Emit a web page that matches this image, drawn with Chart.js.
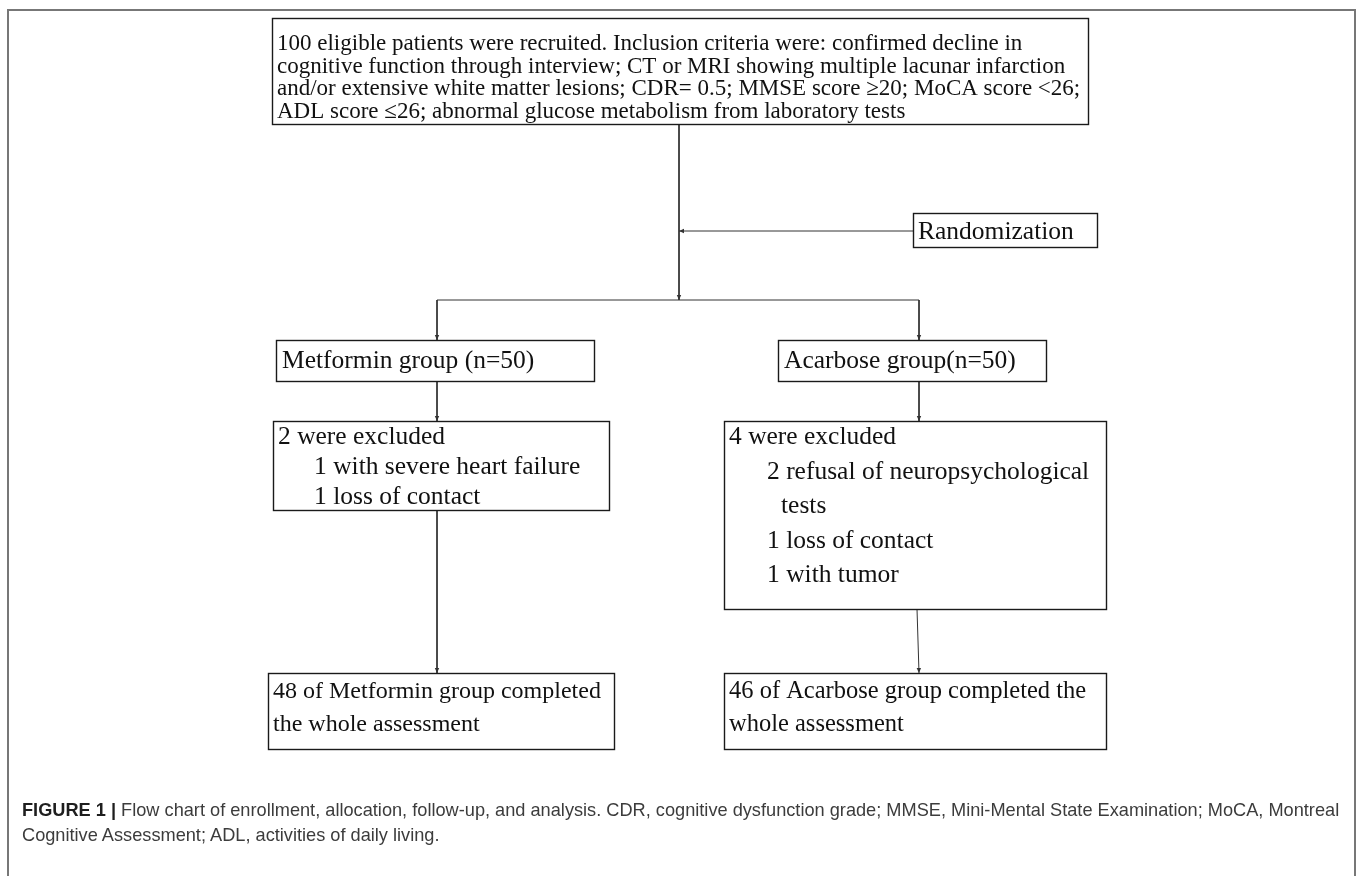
<!DOCTYPE html>
<html>
<head>
<meta charset="utf-8">
<script src="https://cdn.jsdelivr.net/npm/chart.js@4"></script>
<style>
  html, body { margin: 0; padding: 0; background: #fff; }
  #wrap { position: relative; width: 1357px; height: 876px; overflow: hidden; }
  #frame { position: absolute; left: 7px; top: 9px; width: 1349px; height: 900px; border: 2px solid #777; box-sizing: border-box; }
  #flow { position: absolute; left: 0; top: 0; }
  #caption { position: absolute; left: 22px; top: 798px; width: 1330px; font-family: "Liberation Sans", Arial, sans-serif; font-size: 18.2px; line-height: 25px; color: #3c3c3c; white-space: nowrap; }
  #caption b { color: #1e1e1e; }
</style>
</head>
<body>
<div id="wrap">
  <div id="frame"></div>
  <canvas id="flow" width="1357" height="876"></canvas>
  <div id="caption"><b>FIGURE 1 |</b> Flow chart of enrollment, allocation, follow-up, and analysis. CDR, cognitive dysfunction grade; MMSE, Mini-Mental State Examination; MoCA, Montreal<br>Cognitive Assessment; ADL, activities of daily living.</div>
</div>
<script>
// box texts
const enrolledText = [
  "100 eligible patients were recruited. Inclusion criteria were: confirmed decline in",
  "cognitive function through interview; CT or MRI showing multiple lacunar infarction",
  "and/or extensive white matter lesions; CDR= 0.5; MMSE score \u226520; MoCA score <26;",
  "ADL score \u226426; abnormal glucose metabolism from laboratory tests"
];
const randomText = ["Randomization"];
const metforminText = ["Metformin group (n=50)"];
const acarboseText = ["Acarbose group(n=50)"];
const metforminExcluded = ["2 were excluded", "1 with severe heart failure", "1 loss of contact"];
const acarboseExcluded = ["4 were excluded", "2 refusal of neuropsychological", "tests", "1 loss of contact", "1 with tumor"];
const metforminDone = ["48 of Metformin group completed", "the whole assessment"];
const acarboseDone = ["46 of Acarbose group completed the", "whole assessment"];

// layout (page pixels): box = [x0, y0, x1, y1]; pad = text left pad; base = first baseline below top; lh = line step
const boxes = [
  { text: enrolledText, box: [272, 18, 1088, 124], size: 23, pad: 5, base: 32, lh: 22.6, indent: [0, 0, 0, 0] },
  { text: randomText, box: [913, 213, 1097, 247], size: 25.5, pad: 5, base: 26, lh: 0, indent: [0] },
  { text: metforminText, box: [276, 340, 594, 381], size: 25.5, pad: 6, base: 28, lh: 0, indent: [0] },
  { text: acarboseText, box: [778, 340, 1046, 381], size: 25.5, pad: 6, base: 28, lh: 0, indent: [0] },
  { text: metforminExcluded, box: [273, 421, 609, 510], size: 25.5, pad: 5, base: 23, lh: 30, indent: [0, 36, 36] },
  { text: acarboseExcluded, box: [724, 421, 1106, 609], size: 25.5, pad: 5, base: 23, lh: 34.5, indent: [0, 38, 52, 38, 38] },
  { text: metforminDone, box: [268, 673, 614, 749], size: 24, pad: 5, base: 25, lh: 33, indent: [0, 0] },
  { text: acarboseDone, box: [724, 673, 1106, 749], size: 24.5, pad: 5, base: 25, lh: 33, indent: [0, 0] }
];
// connectors: polyline points, arrowhead at the last point when arrow = true
const links = [
  { pts: [[679, 124], [679, 300]], arrow: true },
  { pts: [[913, 231], [679, 231]], arrow: true },
  { pts: [[437, 300], [919, 300]], arrow: false },
  { pts: [[437, 300], [437, 340]], arrow: true },
  { pts: [[919, 300], [919, 340]], arrow: true },
  { pts: [[437, 381], [437, 421]], arrow: true },
  { pts: [[919, 381], [919, 421]], arrow: true },
  { pts: [[437, 510], [437, 673]], arrow: true },
  { pts: [[917, 609], [919, 673]], arrow: true }
];

const flowPlugin = {
  id: 'flow',
  afterDatasetsDraw(chart) {
    const { ctx, scales: { x, y } } = chart;
    ctx.save();
    // arrowheads
    ctx.fillStyle = '#333';
    links.forEach(l => {
      if (!l.arrow) return;
      const a = l.pts[l.pts.length - 2], b = l.pts[l.pts.length - 1];
      const bx = x.getPixelForValue(b[0]), by = y.getPixelForValue(b[1]);
      const ang = Math.atan2(by - y.getPixelForValue(a[1]), bx - x.getPixelForValue(a[0]));
      const c = Math.cos(ang), s = Math.sin(ang);
      ctx.beginPath();
      ctx.moveTo(bx, by);
      ctx.lineTo(bx - 5 * c + 2.2 * s, by - 5 * s - 2.2 * c);
      ctx.lineTo(bx - 5 * c - 2.2 * s, by - 5 * s + 2.2 * c);
      ctx.closePath();
      ctx.fill();
    });
    // boxes and their text
    ctx.textBaseline = 'alphabetic';
    boxes.forEach(b => {
      const x0 = Math.round(x.getPixelForValue(b.box[0])), y0 = Math.round(y.getPixelForValue(b.box[1]));
      const x1 = Math.round(x.getPixelForValue(b.box[2])), y1 = Math.round(y.getPixelForValue(b.box[3]));
      ctx.fillStyle = '#fff';
      ctx.fillRect(x0, y0, x1 - x0, y1 - y0);
      ctx.strokeStyle = '#1a1a1a';
      ctx.lineWidth = 1.4;
      ctx.strokeRect(x0 + 0.5, y0 + 0.5, x1 - x0, y1 - y0);
      ctx.font = b.size + 'px "Liberation Serif", "Times New Roman", serif';
      ctx.fillStyle = '#111';
      b.text.forEach((t, i) => {
        ctx.fillText(t, x0 + b.pad + b.indent[i], y0 + b.base + i * b.lh);
      });
    });
    ctx.restore();
  }
};

const datasets = links.map(l => ({
  data: l.pts.map(p => ({ x: p[0], y: p[1] })),
  showLine: true,
  borderColor: '#333',
  borderWidth: 1,
  pointRadius: 0,
  fill: false
}));

new Chart(document.getElementById('flow'), {
  type: 'scatter',
  data: { datasets },
  options: {
    responsive: false,
    animation: false,
    layout: { padding: 0 },
    plugins: { legend: { display: false }, tooltip: { enabled: false } },
    scales: {
      x: { type: 'linear', min: 0, max: 1357, display: false },
      y: { type: 'linear', min: 0, max: 876, reverse: true, display: false }
    }
  },
  plugins: [flowPlugin]
});
</script>
</body>
</html>
